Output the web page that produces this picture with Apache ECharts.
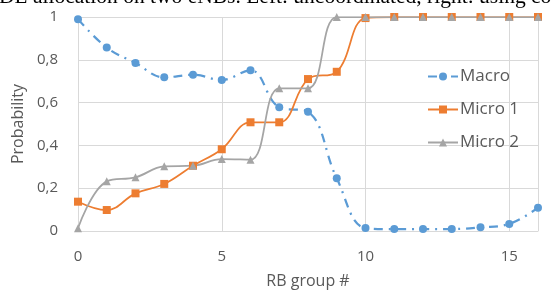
<!DOCTYPE html>
<html><head><meta charset="utf-8">
<script src="https://cdn.jsdelivr.net/npm/echarts@6/dist/echarts.min.js"></script>
<style>html,body{margin:0;padding:0;background:#fff}#c{width:553px;height:293px}</style>
</head><body><div id="c"></div>
<script>
const categories = [0,1,2,3,4,5,6,7,8,9,10,11,12,13,14,15,16];
const macro  = [0.99,0.857,0.785,0.718,0.73,0.706,0.751,0.578,0.557,0.246,0.014,0.009,0.009,0.009,0.017,0.033,0.109];
const micro1 = [0.137,0.098,0.176,0.22,0.305,0.382,0.508,0.508,0.71,0.744,0.995,1,1,1,1,1,1];
const micro2 = [0.013,0.232,0.251,0.302,0.305,0.336,0.333,0.667,0.667,1,1,1,1,1,1,1,1];
const yTicks = ['0','0,2','0,4','0,6','0,8','1'];
const titleText = 'DL allocation on two eNBs. Left: uncoordinated, right: using co';

const pairs = a => a.map((v,i)=>[categories[i], v]);
const font = '"Open Sans", "Noto Sans", sans-serif';
const chart = echarts.init(document.getElementById('c'), null, {renderer:'canvas'});
chart.setOption({
  animation:false,
  backgroundColor:'#fff',
  graphic:[{type:'text', left:-1, top:-14, style:{text:titleText, font:'21.5px "Liberation Serif", serif', fill:'#000'}}],
  grid:{left:78,right:15,top:17,bottom:62,containLabel:false,outerBoundsMode:'none'},
  xAxis:{type:'value',min:0,max:16,interval:5,
    name:'RB group #',nameLocation:'middle',nameGap:42,
    nameTextStyle:{fontFamily:font,fontSize:16,color:'#595959'},
    axisLine:{show:true,lineStyle:{color:'#d9d9d9',width:1}},
    axisTick:{show:false},
    axisLabel:{fontFamily:font,fontSize:15,color:'#595959',margin:18,showMaxLabel:false},
    splitLine:{show:true,lineStyle:{color:'#d9d9d9',width:1}}},
  yAxis:{type:'value',min:0,max:1,interval:0.2,
    name:'Probability',nameLocation:'middle',nameGap:47,
    nameTextStyle:{fontFamily:font,fontSize:16,color:'#595959'},
    axisLine:{show:false},axisTick:{show:false},
    axisLabel:{fontFamily:font,fontSize:15,color:'#595959',margin:20,
      formatter:v=>yTicks[Math.round(v*5)]},
    splitLine:{show:true,lineStyle:{color:'#d9d9d9',width:1}}},
  legend:{orient:'vertical',left:422,top:63,itemGap:16,itemWidth:30,itemHeight:10,
    textStyle:{fontFamily:font,fontSize:17,color:'#595959',padding:[0,0,0,-3]},
    data:['Macro','Micro 1','Micro 2']},
  series:[
    {name:'Macro',type:'line',data:pairs(macro),smooth:0.4,symbol:'circle',symbolSize:8,
     lineStyle:{color:'#5B9BD5',width:2.25,type:[9,6,2,6]},itemStyle:{color:'#5B9BD5'}},
    {name:'Micro 1',type:'line',data:pairs(micro1),smooth:0.4,symbol:'rect',symbolSize:8,
     lineStyle:{color:'#ED7D31',width:1.75},itemStyle:{color:'#ED7D31'}},
    {name:'Micro 2',type:'line',data:pairs(micro2),smooth:0.4,symbol:'triangle',symbolSize:8,
     lineStyle:{color:'#A5A5A5',width:1.75},itemStyle:{color:'#A5A5A5'}}
  ]
});
</script></body></html>
